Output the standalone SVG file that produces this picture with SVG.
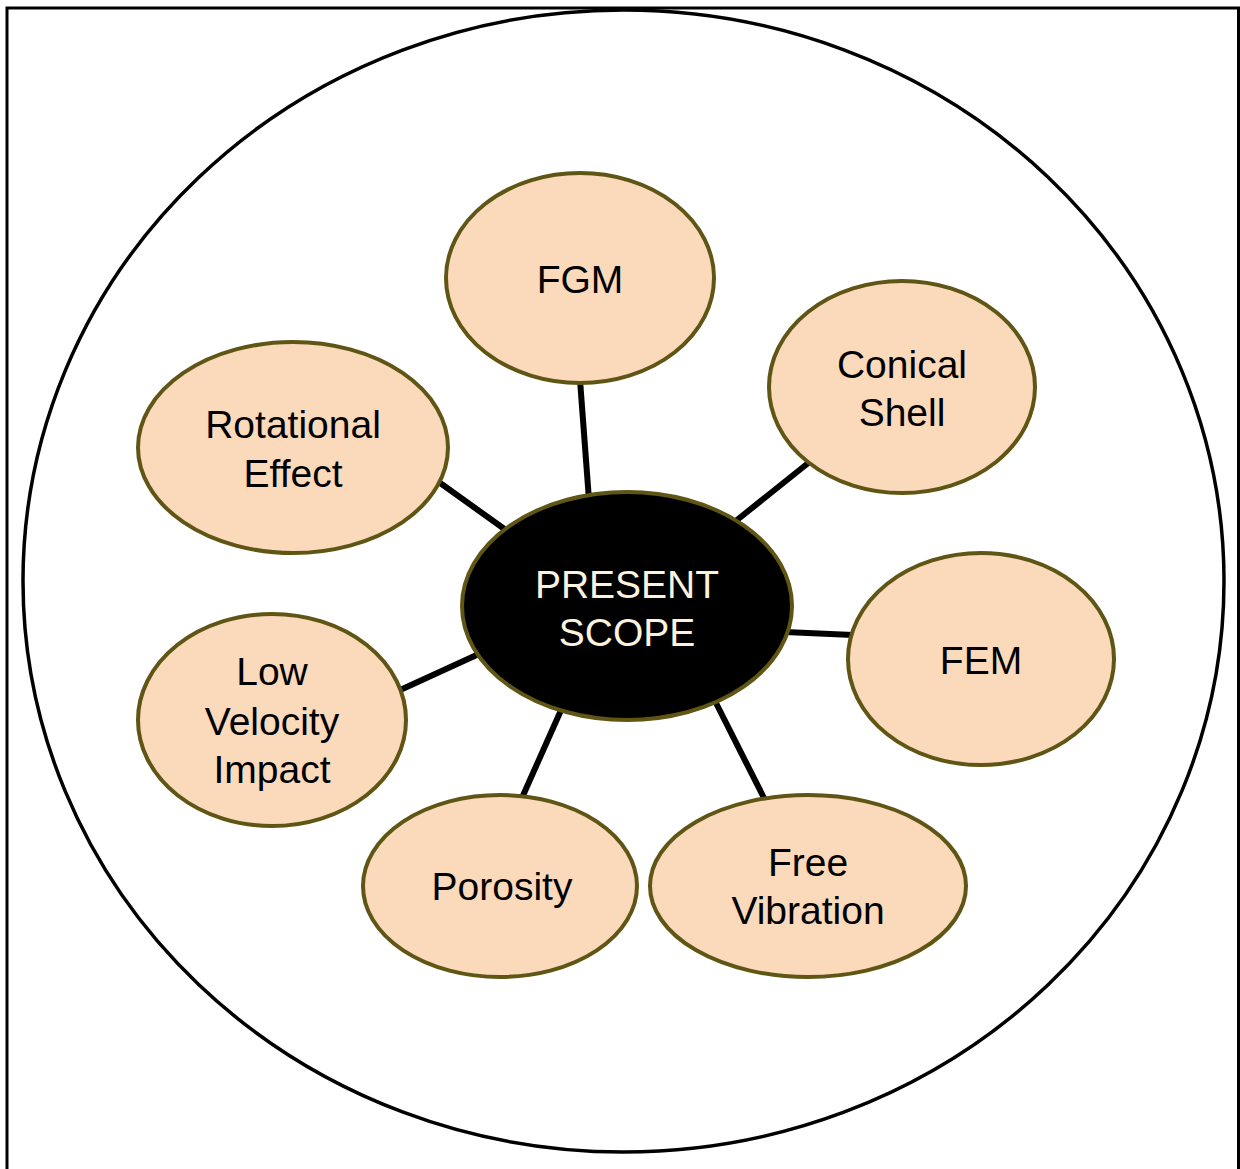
<svg xmlns="http://www.w3.org/2000/svg" width="1240" height="1169" viewBox="0 0 1240 1169">
<style>
.node{fill:#fbd9bb;stroke:#5f5514;stroke-width:4}
.center{fill:#000;stroke:#5f5514;stroke-width:4}
.lbl{font-family:"Liberation Sans",Arial,sans-serif;font-size:39px;fill:#000;text-anchor:middle}
.clbl{font-family:"Liberation Sans",Arial,sans-serif;font-size:39px;fill:#fdf3dc;text-anchor:middle}
.conn line{stroke:#000;stroke-width:6}
</style>
<rect x="7" y="8" width="1231.5" height="1175" fill="#fff" stroke="#000" stroke-width="3"/>
<ellipse cx="623.5" cy="581" rx="600.5" ry="571" fill="none" stroke="#000" stroke-width="3.5"/>
<g id="connectors" class="conn">
<line x1="580" y1="380" x2="589" y2="500"/>
<line x1="812" y1="460" x2="732" y2="524"/>
<line x1="436" y1="480" x2="510" y2="533"/>
<line x1="785" y1="632" x2="853" y2="635"/>
<line x1="398" y1="691" x2="481" y2="653"/>
<line x1="521" y1="800" x2="562" y2="708"/>
<line x1="715" y1="701" x2="765" y2="800"/>
</g>
<g id="center">
<ellipse class="center" cx="627" cy="606" rx="165" ry="114"/>
<text class="clbl" x="627" y="598">PRESENT</text>
<text class="clbl" x="627" y="646">SCOPE</text>
</g>
<g id="fgm">
<ellipse class="node" cx="580" cy="278" rx="134" ry="105"/>
<text class="lbl" x="580" y="293">FGM</text>
</g>
<g id="conical-shell">
<ellipse class="node" cx="902" cy="387" rx="133" ry="106"/>
<text class="lbl" x="902" y="378">Conical</text>
<text class="lbl" x="902" y="426">Shell</text>
</g>
<g id="rotational-effect">
<ellipse class="node" cx="293" cy="447.5" rx="155" ry="105.5"/>
<text class="lbl" x="293" y="438">Rotational</text>
<text class="lbl" x="293" y="487">Effect</text>
</g>
<g id="fem">
<ellipse class="node" cx="981" cy="659" rx="133" ry="106"/>
<text class="lbl" x="981" y="674">FEM</text>
</g>
<g id="low-velocity-impact">
<ellipse class="node" cx="272" cy="720" rx="134" ry="106"/>
<text class="lbl" x="272" y="685">Low</text>
<text class="lbl" x="272" y="735">Velocity</text>
<text class="lbl" x="272" y="783">Impact</text>
</g>
<g id="porosity">
<ellipse class="node" cx="500" cy="886" rx="137" ry="91"/>
<text class="lbl" x="502" y="900">Porosity</text>
</g>
<g id="free-vibration">
<ellipse class="node" cx="808" cy="886" rx="158" ry="91"/>
<text class="lbl" x="808" y="876">Free</text>
<text class="lbl" x="808" y="924">Vibration</text>
</g>
</svg>
